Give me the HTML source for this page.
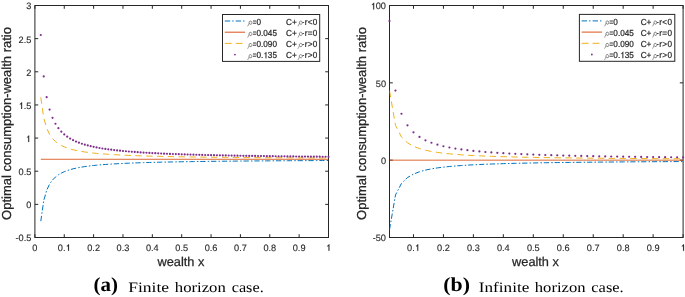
<!DOCTYPE html>
<html><head><meta charset="utf-8"><style>
html,body{margin:0;padding:0;background:#fff;}
body{width:685px;height:297px;overflow:hidden;position:relative;}
svg{position:absolute;left:0;top:0;will-change:transform;}
text{text-rendering:geometricPrecision;}
.tk{font-family:"Liberation Sans",sans-serif;font-size:9.2px;fill:#262626;stroke:#262626;stroke-width:0.12px;}
.lb{font-family:"Liberation Sans",sans-serif;font-size:13.0px;fill:#262626;stroke:#262626;stroke-width:0.25px;}
.xl{font-size:12.75px;}
.lg{font-family:"Liberation Sans",sans-serif;font-size:8.2px;fill:#262626;stroke:#262626;stroke-width:0.2px;}
.rho{font-family:"Liberation Serif",serif;font-style:italic;fill:#777;}
.cap{font-family:"Liberation Serif",serif;font-size:15.5px;fill:#000;}
.capb{font-weight:bold;}
</style></head><body>
<svg width="685" height="297" viewBox="0 0 685 297">
<rect x="34.9" y="5.5" width="293.6" height="232.0" fill="none" stroke="#262626" stroke-width="1.0"/>
<path d="M34.90,237.5v-3.3M34.90,5.5v3.3M64.26,237.5v-3.3M64.26,5.5v3.3M93.62,237.5v-3.3M93.62,5.5v3.3M122.98,237.5v-3.3M122.98,5.5v3.3M152.34,237.5v-3.3M152.34,5.5v3.3M181.70,237.5v-3.3M181.70,5.5v3.3M211.06,237.5v-3.3M211.06,5.5v3.3M240.42,237.5v-3.3M240.42,5.5v3.3M269.78,237.5v-3.3M269.78,5.5v3.3M299.14,237.5v-3.3M299.14,5.5v3.3M328.50,237.5v-3.3M328.50,5.5v3.3M34.9,237.50h3.3M328.5,237.50h-3.3M34.9,204.36h3.3M328.5,204.36h-3.3M34.9,171.21h3.3M328.5,171.21h-3.3M34.9,138.07h3.3M328.5,138.07h-3.3M34.9,104.93h3.3M328.5,104.93h-3.3M34.9,71.79h3.3M328.5,71.79h-3.3M34.9,38.64h3.3M328.5,38.64h-3.3M34.9,5.50h3.3M328.5,5.50h-3.3" stroke="#262626" stroke-width="1.0" fill="none"/>
<clipPath id="c34"><rect x="34.9" y="5.5" width="293.6" height="232.0"/></clipPath>
<g clip-path="url(#c34)">
<polyline points="40.77,221.43 43.71,200.71 46.64,190.35 49.58,184.14 52.52,180.00 55.45,177.04 58.39,174.82 61.32,173.09 64.26,171.71 67.20,170.58 70.13,169.64 73.07,168.84 76.00,168.16 78.94,167.57 81.88,167.05 84.81,166.59 87.75,166.19 90.68,165.82 93.62,165.50 96.56,165.20 99.49,164.93 102.43,164.69 105.36,164.46 108.30,164.25 111.24,164.06 114.17,163.89 117.11,163.72 120.04,163.57 122.98,163.43 125.92,163.29 128.85,163.17 131.79,163.05 134.72,162.94 137.66,162.83 140.60,162.74 143.53,162.64 146.47,162.55 149.40,162.47 152.34,162.39 155.28,162.31 158.21,162.24 161.15,162.17 164.08,162.11 167.02,162.04 169.96,161.98 172.89,161.93 175.83,161.87 178.76,161.82 181.70,161.77 184.64,161.72 187.57,161.67 190.51,161.63 193.44,161.58 196.38,161.54 199.32,161.50 202.25,161.46 205.19,161.43 208.12,161.39 211.06,161.35 214.00,161.32 216.93,161.29 219.87,161.26 222.80,161.22 225.74,161.19 228.68,161.17 231.61,161.14 234.55,161.11 237.48,161.08 240.42,161.06 243.36,161.03 246.29,161.01 249.23,160.99 252.16,160.96 255.10,160.94 258.04,160.92 260.97,160.90 263.91,160.88 266.84,160.86 269.78,160.84 272.72,160.82 275.65,160.80 278.59,160.78 281.52,160.76 284.46,160.75 287.40,160.73 290.33,160.71 293.27,160.70 296.20,160.68 299.14,160.66 302.08,160.65 305.01,160.63 307.95,160.62 310.88,160.61 313.82,160.59 316.76,160.58 319.69,160.56 322.63,160.55 325.56,160.54 328.50,160.53" fill="none" stroke="#0072BD" stroke-width="1.0" stroke-dasharray="5.3 2.2 1.5 1.815" stroke-dashoffset="-0.3"/>
<polyline points="40.77,159.28 328.50,159.28" fill="none" stroke="#D95319" stroke-width="0.88"/>
<polyline points="40.77,97.14 43.71,117.85 46.64,128.21 49.58,134.43 52.52,138.57 55.45,141.53 58.39,143.75 61.32,145.47 64.26,146.85 67.20,147.98 70.13,148.93 73.07,149.72 76.00,150.41 78.94,151.00 81.88,151.51 84.81,151.97 87.75,152.38 90.68,152.74 93.62,153.07 96.56,153.36 99.49,153.63 102.43,153.88 105.36,154.10 108.30,154.31 111.24,154.50 114.17,154.68 117.11,154.84 120.04,155.00 122.98,155.14 125.92,155.27 128.85,155.40 131.79,155.52 134.72,155.63 137.66,155.73 140.60,155.83 143.53,155.92 146.47,156.01 149.40,156.10 152.34,156.18 155.28,156.25 158.21,156.32 161.15,156.39 164.08,156.46 167.02,156.52 169.96,156.58 172.89,156.64 175.83,156.69 178.76,156.75 181.70,156.80 184.64,156.85 187.57,156.89 190.51,156.94 193.44,156.98 196.38,157.02 199.32,157.06 202.25,157.10 205.19,157.14 208.12,157.18 211.06,157.21 214.00,157.25 216.93,157.28 219.87,157.31 222.80,157.34 225.74,157.37 228.68,157.40 231.61,157.43 234.55,157.46 237.48,157.48 240.42,157.51 243.36,157.53 246.29,157.56 249.23,157.58 252.16,157.60 255.10,157.63 258.04,157.65 260.97,157.67 263.91,157.69 266.84,157.71 269.78,157.73 272.72,157.75 275.65,157.77 278.59,157.79 281.52,157.80 284.46,157.82 287.40,157.84 290.33,157.85 293.27,157.87 296.20,157.89 299.14,157.90 302.08,157.92 305.01,157.93 307.95,157.95 310.88,157.96 313.82,157.97 316.76,157.99 319.69,158.00 322.63,158.01 325.56,158.03 328.50,158.04" fill="none" stroke="#EDB120" stroke-width="1.0" stroke-dasharray="6.4 4.415" stroke-dashoffset="-0.3"/>
</g>
<circle cx="40.77" cy="35.00" r="1.1" fill="#7E2F8E"/>
<circle cx="43.71" cy="76.43" r="1.1" fill="#7E2F8E"/>
<circle cx="46.64" cy="97.14" r="1.1" fill="#7E2F8E"/>
<circle cx="49.58" cy="109.57" r="1.1" fill="#7E2F8E"/>
<circle cx="52.52" cy="117.85" r="1.1" fill="#7E2F8E"/>
<circle cx="55.45" cy="123.77" r="1.1" fill="#7E2F8E"/>
<circle cx="58.39" cy="128.21" r="1.1" fill="#7E2F8E"/>
<circle cx="61.32" cy="131.66" r="1.1" fill="#7E2F8E"/>
<circle cx="64.26" cy="134.43" r="1.1" fill="#7E2F8E"/>
<circle cx="67.20" cy="136.69" r="1.1" fill="#7E2F8E"/>
<circle cx="70.13" cy="138.57" r="1.1" fill="#7E2F8E"/>
<circle cx="73.07" cy="140.16" r="1.1" fill="#7E2F8E"/>
<circle cx="76.00" cy="141.53" r="1.1" fill="#7E2F8E"/>
<circle cx="78.94" cy="142.71" r="1.1" fill="#7E2F8E"/>
<circle cx="81.88" cy="143.75" r="1.1" fill="#7E2F8E"/>
<circle cx="84.81" cy="144.66" r="1.1" fill="#7E2F8E"/>
<circle cx="87.75" cy="145.47" r="1.1" fill="#7E2F8E"/>
<circle cx="90.68" cy="146.20" r="1.1" fill="#7E2F8E"/>
<circle cx="93.62" cy="146.85" r="1.1" fill="#7E2F8E"/>
<circle cx="96.56" cy="147.45" r="1.1" fill="#7E2F8E"/>
<circle cx="99.49" cy="147.98" r="1.1" fill="#7E2F8E"/>
<circle cx="102.43" cy="148.48" r="1.1" fill="#7E2F8E"/>
<circle cx="105.36" cy="148.93" r="1.1" fill="#7E2F8E"/>
<circle cx="108.30" cy="149.34" r="1.1" fill="#7E2F8E"/>
<circle cx="111.24" cy="149.72" r="1.1" fill="#7E2F8E"/>
<circle cx="114.17" cy="150.08" r="1.1" fill="#7E2F8E"/>
<circle cx="117.11" cy="150.41" r="1.1" fill="#7E2F8E"/>
<circle cx="120.04" cy="150.71" r="1.1" fill="#7E2F8E"/>
<circle cx="122.98" cy="151.00" r="1.1" fill="#7E2F8E"/>
<circle cx="125.92" cy="151.26" r="1.1" fill="#7E2F8E"/>
<circle cx="128.85" cy="151.51" r="1.1" fill="#7E2F8E"/>
<circle cx="131.79" cy="151.75" r="1.1" fill="#7E2F8E"/>
<circle cx="134.72" cy="151.97" r="1.1" fill="#7E2F8E"/>
<circle cx="137.66" cy="152.18" r="1.1" fill="#7E2F8E"/>
<circle cx="140.60" cy="152.38" r="1.1" fill="#7E2F8E"/>
<circle cx="143.53" cy="152.56" r="1.1" fill="#7E2F8E"/>
<circle cx="146.47" cy="152.74" r="1.1" fill="#7E2F8E"/>
<circle cx="149.40" cy="152.91" r="1.1" fill="#7E2F8E"/>
<circle cx="152.34" cy="153.07" r="1.1" fill="#7E2F8E"/>
<circle cx="155.28" cy="153.22" r="1.1" fill="#7E2F8E"/>
<circle cx="158.21" cy="153.36" r="1.1" fill="#7E2F8E"/>
<circle cx="161.15" cy="153.50" r="1.1" fill="#7E2F8E"/>
<circle cx="164.08" cy="153.63" r="1.1" fill="#7E2F8E"/>
<circle cx="167.02" cy="153.76" r="1.1" fill="#7E2F8E"/>
<circle cx="169.96" cy="153.88" r="1.1" fill="#7E2F8E"/>
<circle cx="172.89" cy="153.99" r="1.1" fill="#7E2F8E"/>
<circle cx="175.83" cy="154.10" r="1.1" fill="#7E2F8E"/>
<circle cx="178.76" cy="154.21" r="1.1" fill="#7E2F8E"/>
<circle cx="181.70" cy="154.31" r="1.1" fill="#7E2F8E"/>
<circle cx="184.64" cy="154.41" r="1.1" fill="#7E2F8E"/>
<circle cx="187.57" cy="154.50" r="1.1" fill="#7E2F8E"/>
<circle cx="190.51" cy="154.59" r="1.1" fill="#7E2F8E"/>
<circle cx="193.44" cy="154.68" r="1.1" fill="#7E2F8E"/>
<circle cx="196.38" cy="154.76" r="1.1" fill="#7E2F8E"/>
<circle cx="199.32" cy="154.84" r="1.1" fill="#7E2F8E"/>
<circle cx="202.25" cy="154.92" r="1.1" fill="#7E2F8E"/>
<circle cx="205.19" cy="155.00" r="1.1" fill="#7E2F8E"/>
<circle cx="208.12" cy="155.07" r="1.1" fill="#7E2F8E"/>
<circle cx="211.06" cy="155.14" r="1.1" fill="#7E2F8E"/>
<circle cx="214.00" cy="155.21" r="1.1" fill="#7E2F8E"/>
<circle cx="216.93" cy="155.27" r="1.1" fill="#7E2F8E"/>
<circle cx="219.87" cy="155.34" r="1.1" fill="#7E2F8E"/>
<circle cx="222.80" cy="155.40" r="1.1" fill="#7E2F8E"/>
<circle cx="225.74" cy="155.46" r="1.1" fill="#7E2F8E"/>
<circle cx="228.68" cy="155.52" r="1.1" fill="#7E2F8E"/>
<circle cx="231.61" cy="155.57" r="1.1" fill="#7E2F8E"/>
<circle cx="234.55" cy="155.63" r="1.1" fill="#7E2F8E"/>
<circle cx="237.48" cy="155.68" r="1.1" fill="#7E2F8E"/>
<circle cx="240.42" cy="155.73" r="1.1" fill="#7E2F8E"/>
<circle cx="243.36" cy="155.78" r="1.1" fill="#7E2F8E"/>
<circle cx="246.29" cy="155.83" r="1.1" fill="#7E2F8E"/>
<circle cx="249.23" cy="155.88" r="1.1" fill="#7E2F8E"/>
<circle cx="252.16" cy="155.92" r="1.1" fill="#7E2F8E"/>
<circle cx="255.10" cy="155.97" r="1.1" fill="#7E2F8E"/>
<circle cx="258.04" cy="156.01" r="1.1" fill="#7E2F8E"/>
<circle cx="260.97" cy="156.05" r="1.1" fill="#7E2F8E"/>
<circle cx="263.91" cy="156.10" r="1.1" fill="#7E2F8E"/>
<circle cx="266.84" cy="156.14" r="1.1" fill="#7E2F8E"/>
<circle cx="269.78" cy="156.18" r="1.1" fill="#7E2F8E"/>
<circle cx="272.72" cy="156.21" r="1.1" fill="#7E2F8E"/>
<circle cx="275.65" cy="156.25" r="1.1" fill="#7E2F8E"/>
<circle cx="278.59" cy="156.29" r="1.1" fill="#7E2F8E"/>
<circle cx="281.52" cy="156.32" r="1.1" fill="#7E2F8E"/>
<circle cx="284.46" cy="156.36" r="1.1" fill="#7E2F8E"/>
<circle cx="287.40" cy="156.39" r="1.1" fill="#7E2F8E"/>
<circle cx="290.33" cy="156.43" r="1.1" fill="#7E2F8E"/>
<circle cx="293.27" cy="156.46" r="1.1" fill="#7E2F8E"/>
<circle cx="296.20" cy="156.49" r="1.1" fill="#7E2F8E"/>
<circle cx="299.14" cy="156.52" r="1.1" fill="#7E2F8E"/>
<circle cx="302.08" cy="156.55" r="1.1" fill="#7E2F8E"/>
<circle cx="305.01" cy="156.58" r="1.1" fill="#7E2F8E"/>
<circle cx="307.95" cy="156.61" r="1.1" fill="#7E2F8E"/>
<circle cx="310.88" cy="156.64" r="1.1" fill="#7E2F8E"/>
<circle cx="313.82" cy="156.67" r="1.1" fill="#7E2F8E"/>
<circle cx="316.76" cy="156.69" r="1.1" fill="#7E2F8E"/>
<circle cx="319.69" cy="156.72" r="1.1" fill="#7E2F8E"/>
<circle cx="322.63" cy="156.75" r="1.1" fill="#7E2F8E"/>
<circle cx="325.56" cy="156.77" r="1.1" fill="#7E2F8E"/>
<circle cx="328.50" cy="156.80" r="1.1" fill="#7E2F8E"/>
<text transform="translate(32.34,250.85) scale(1,1.0)" class="tk">0</text>
<text transform="translate(57.87,250.85) scale(1,1.0)" class="tk">0.&#8199;</text>
<path d="M69.02,250.85 L68.10,250.85 L68.10,245.88 C67.84,246.11 67.52,246.30 67.19,246.43 C67.06,246.49 66.94,246.54 66.83,246.60 L66.83,245.84 C67.29,245.61 67.70,245.28 68.00,244.96 C68.25,244.69 68.44,244.41 68.53,244.26 L69.02,244.26 Z" fill="#262626" stroke="#262626" stroke-width="0.15"/>
<text transform="translate(87.23,250.85) scale(1,1.0)" class="tk">0.2</text>
<text transform="translate(116.59,250.85) scale(1,1.0)" class="tk">0.3</text>
<text transform="translate(145.95,250.85) scale(1,1.0)" class="tk">0.4</text>
<text transform="translate(175.31,250.85) scale(1,1.0)" class="tk">0.5</text>
<text transform="translate(204.67,250.85) scale(1,1.0)" class="tk">0.6</text>
<text transform="translate(234.03,250.85) scale(1,1.0)" class="tk">0.7</text>
<text transform="translate(263.39,250.85) scale(1,1.0)" class="tk">0.8</text>
<text transform="translate(292.75,250.85) scale(1,1.0)" class="tk">0.9</text>
<text transform="translate(325.94,250.85) scale(1,1.0)" class="tk">&#8199;</text>
<path d="M329.42,250.85 L328.50,250.85 L328.50,245.88 C328.24,246.11 327.92,246.30 327.60,246.43 C327.46,246.49 327.34,246.54 327.23,246.60 L327.23,245.84 C327.69,245.61 328.10,245.28 328.41,244.96 C328.66,244.69 328.84,244.41 328.93,244.26 L329.42,244.26 Z" fill="#262626" stroke="#262626" stroke-width="0.15"/>
<text transform="translate(15.55,241.45) scale(1,1.0)" class="tk">-0.5</text>
<text transform="translate(26.28,208.31) scale(1,1.0)" class="tk">0</text>
<text transform="translate(18.61,175.16) scale(1,1.0)" class="tk">0.5</text>
<text transform="translate(25.68,142.02) scale(1,1.0)" class="tk">&#8199;</text>
<path d="M29.16,142.02 L28.24,142.02 L28.24,137.05 C27.98,137.28 27.66,137.47 27.34,137.61 C27.20,137.66 27.08,137.72 26.97,137.77 L26.97,137.01 C27.43,136.78 27.85,136.46 28.15,136.13 C28.40,135.86 28.58,135.58 28.67,135.43 L29.16,135.43 Z" fill="#262626" stroke="#262626" stroke-width="0.15"/>
<text transform="translate(18.61,108.88) scale(1,1.0)" class="tk">&#8199;.5</text>
<path d="M22.09,108.88 L21.17,108.88 L21.17,103.91 C20.91,104.14 20.59,104.32 20.27,104.46 C20.13,104.52 20.01,104.57 19.90,104.63 L19.90,103.86 C20.36,103.63 20.77,103.31 21.08,102.99 C21.32,102.71 21.51,102.44 21.60,102.29 L22.09,102.29 Z" fill="#262626" stroke="#262626" stroke-width="0.15"/>
<text transform="translate(26.28,75.74) scale(1,1.0)" class="tk">2</text>
<text transform="translate(18.61,42.59) scale(1,1.0)" class="tk">2.5</text>
<text transform="translate(26.28,9.45) scale(1,1.0)" class="tk">3</text>
<text x="180.9" y="265.6" text-anchor="middle" class="lb xl">wealth x</text>
<text transform="translate(11.2,123.5) rotate(-90)" text-anchor="middle" class="lb">Optimal consumption-wealth ratio</text>
<rect x="222.5" y="14.5" width="97.19999999999999" height="46.9" fill="#fff" stroke="#262626" stroke-width="1.0"/>
<line x1="224.80" y1="21.00" x2="245.10" y2="21.00" stroke="#0072BD" stroke-width="1.0" stroke-dasharray="5.4 2.0 1.4 2.1"/>
<g fill="none" stroke="#6a6a6a" stroke-width="0.7"><ellipse cx="250.50" cy="22.65" rx="1.45" ry="1.65" transform="rotate(-20 250.50 22.65)"/><path d="M249.20,23.25 C248.60,24.65 248.10,25.65 247.60,26.35"/></g>
<text transform="translate(252.65,24.65) scale(0.75,1.07)" class="lg">=</text>
<text transform="translate(256.45,24.65) scale(1,1.07)" class="lg">0</text>
<text transform="translate(286.10,24.65) scale(1,1.07)" class="lg">C+</text>
<g fill="none" stroke="#6a6a6a" stroke-width="0.7"><ellipse cx="300.80" cy="22.65" rx="1.45" ry="1.65" transform="rotate(-20 300.80 22.65)"/><path d="M299.50,23.25 C298.90,24.65 298.40,25.65 297.90,26.35"/></g>
<text transform="translate(302.25,24.65) scale(0.75,1.07)" class="lg">-</text>
<text transform="translate(304.76,24.65) scale(1,1.07)" class="lg" letter-spacing="0.26">r&lt;0</text>
<line x1="224.80" y1="32.20" x2="245.10" y2="32.20" stroke="#D95319" stroke-width="1.0"/>
<g fill="none" stroke="#6a6a6a" stroke-width="0.7"><ellipse cx="250.50" cy="33.85" rx="1.45" ry="1.65" transform="rotate(-20 250.50 33.85)"/><path d="M249.20,34.45 C248.60,35.85 248.10,36.85 247.60,37.55"/></g>
<text transform="translate(252.65,35.85) scale(0.75,1.07)" class="lg">=</text>
<text transform="translate(256.45,35.85) scale(1,1.07)" class="lg">0.045</text>
<text transform="translate(286.10,35.85) scale(1,1.07)" class="lg">C+</text>
<g fill="none" stroke="#6a6a6a" stroke-width="0.7"><ellipse cx="300.80" cy="33.85" rx="1.45" ry="1.65" transform="rotate(-20 300.80 33.85)"/><path d="M299.50,34.45 C298.90,35.85 298.40,36.85 297.90,37.55"/></g>
<text transform="translate(302.25,35.85) scale(0.75,1.07)" class="lg">-</text>
<text transform="translate(304.76,35.85) scale(1,1.07)" class="lg" letter-spacing="0.26">r=0</text>
<line x1="224.80" y1="43.40" x2="245.10" y2="43.40" stroke="#EDB120" stroke-width="1.0" stroke-dasharray="6.9 4.0"/>
<g fill="none" stroke="#6a6a6a" stroke-width="0.7"><ellipse cx="250.50" cy="45.05" rx="1.45" ry="1.65" transform="rotate(-20 250.50 45.05)"/><path d="M249.20,45.65 C248.60,47.05 248.10,48.05 247.60,48.75"/></g>
<text transform="translate(252.65,47.05) scale(0.75,1.07)" class="lg">=</text>
<text transform="translate(256.45,47.05) scale(1,1.07)" class="lg">0.090</text>
<text transform="translate(286.10,47.05) scale(1,1.07)" class="lg">C+</text>
<g fill="none" stroke="#6a6a6a" stroke-width="0.7"><ellipse cx="300.80" cy="45.05" rx="1.45" ry="1.65" transform="rotate(-20 300.80 45.05)"/><path d="M299.50,45.65 C298.90,47.05 298.40,48.05 297.90,48.75"/></g>
<text transform="translate(302.25,47.05) scale(0.75,1.07)" class="lg">-</text>
<text transform="translate(304.76,47.05) scale(1,1.07)" class="lg" letter-spacing="0.26">r&gt;0</text>
<circle cx="234.95" cy="54.60" r="0.9" fill="#7E2F8E"/>
<g fill="none" stroke="#6a6a6a" stroke-width="0.7"><ellipse cx="250.50" cy="56.25" rx="1.45" ry="1.65" transform="rotate(-20 250.50 56.25)"/><path d="M249.20,56.85 C248.60,58.25 248.10,59.25 247.60,59.95"/></g>
<text transform="translate(252.65,58.25) scale(0.75,1.07)" class="lg">=</text>
<text transform="translate(256.45,58.25) scale(1,1.07)" class="lg">0.&#8199;35</text>
<path d="M266.39,58.25 L265.57,58.25 L265.57,53.51 C265.34,53.73 265.05,53.91 264.76,54.04 C264.64,54.09 264.54,54.14 264.44,54.20 L264.44,53.47 C264.85,53.25 265.22,52.94 265.49,52.63 C265.71,52.37 265.87,52.11 265.95,51.97 L266.39,51.97 Z" fill="#262626" stroke="#262626" stroke-width="0.15"/>
<text transform="translate(286.10,58.25) scale(1,1.07)" class="lg">C+</text>
<g fill="none" stroke="#6a6a6a" stroke-width="0.7"><ellipse cx="300.80" cy="56.25" rx="1.45" ry="1.65" transform="rotate(-20 300.80 56.25)"/><path d="M299.50,56.85 C298.90,58.25 298.40,59.25 297.90,59.95"/></g>
<text transform="translate(302.25,58.25) scale(0.75,1.07)" class="lg">-</text>
<text transform="translate(304.76,58.25) scale(1,1.07)" class="lg" letter-spacing="0.26">r&gt;0</text>
<rect x="389.5" y="5.5" width="293.6" height="232.0" fill="none" stroke="#262626" stroke-width="1.0"/>
<path d="M413.47,237.5v-3.3M413.47,5.5v3.3M443.43,237.5v-3.3M443.43,5.5v3.3M473.39,237.5v-3.3M473.39,5.5v3.3M503.34,237.5v-3.3M503.34,5.5v3.3M533.30,237.5v-3.3M533.30,5.5v3.3M563.26,237.5v-3.3M563.26,5.5v3.3M593.22,237.5v-3.3M593.22,5.5v3.3M623.18,237.5v-3.3M623.18,5.5v3.3M653.14,237.5v-3.3M653.14,5.5v3.3M683.10,237.5v-3.3M683.10,5.5v3.3M389.5,237.50h3.3M683.1,237.50h-3.3M389.5,160.17h3.3M683.1,160.17h-3.3M389.5,82.83h3.3M683.1,82.83h-3.3M389.5,5.50h3.3M683.1,5.50h-3.3" stroke="#262626" stroke-width="1.0" fill="none"/>
<clipPath id="c389"><rect x="389.5" y="5.5" width="293.6" height="232.0"/></clipPath>
<g clip-path="url(#c389)">
<polyline points="389.50,229.77 395.49,194.97 401.48,183.37 407.48,177.57 413.47,174.09 419.46,171.77 425.45,170.11 431.44,168.87 437.43,167.90 443.43,167.13 449.42,166.49 455.41,165.97 461.40,165.52 467.39,165.14 473.39,164.81 479.38,164.52 485.37,164.26 491.36,164.03 497.35,163.83 503.34,163.65 509.34,163.48 515.33,163.33 521.32,163.19 527.31,163.07 533.30,162.95 539.30,162.84 545.29,162.74 551.28,162.65 557.27,162.57 563.26,162.49 569.26,162.41 575.25,162.34 581.24,162.28 587.23,162.21 593.22,162.16 599.21,162.10 605.21,162.05 611.20,162.00 617.19,161.95 623.18,161.91 629.17,161.86 635.17,161.82 641.16,161.79 647.15,161.75 653.14,161.71 659.13,161.68 665.12,161.65 671.12,161.62 677.11,161.59 683.10,161.56" fill="none" stroke="#0072BD" stroke-width="1.0" stroke-dasharray="5.3 2.2 1.5 1.815" stroke-dashoffset="-0.3"/>
<polyline points="389.50,160.17 683.10,160.17" fill="none" stroke="#D95319" stroke-width="0.88"/>
<polyline points="389.50,90.57 395.49,125.37 401.48,136.97 407.48,142.77 413.47,146.25 419.46,148.57 425.45,150.22 431.44,151.47 437.43,152.43 443.43,153.21 449.42,153.84 455.41,154.37 461.40,154.81 467.39,155.20 473.39,155.53 479.38,155.82 485.37,156.07 491.36,156.30 497.35,156.50 503.34,156.69 509.34,156.85 515.33,157.00 521.32,157.14 527.31,157.27 533.30,157.38 539.30,157.49 545.29,157.59 551.28,157.68 557.27,157.77 563.26,157.85 569.26,157.92 575.25,157.99 581.24,158.06 587.23,158.12 593.22,158.18 599.21,158.23 605.21,158.29 611.20,158.34 617.19,158.38 623.18,158.43 629.17,158.47 635.17,158.51 641.16,158.55 647.15,158.58 653.14,158.62 659.13,158.65 665.12,158.69 671.12,158.72 677.11,158.75 683.10,158.77" fill="none" stroke="#EDB120" stroke-width="1.0" stroke-dasharray="6.4 4.415" stroke-dashoffset="-0.3"/>
</g>
<circle cx="389.50" cy="20.97" r="1.1" fill="#7E2F8E"/>
<circle cx="395.49" cy="90.57" r="1.1" fill="#7E2F8E"/>
<circle cx="401.48" cy="113.77" r="1.1" fill="#7E2F8E"/>
<circle cx="407.48" cy="125.37" r="1.1" fill="#7E2F8E"/>
<circle cx="413.47" cy="132.33" r="1.1" fill="#7E2F8E"/>
<circle cx="419.46" cy="136.97" r="1.1" fill="#7E2F8E"/>
<circle cx="425.45" cy="140.28" r="1.1" fill="#7E2F8E"/>
<circle cx="431.44" cy="142.77" r="1.1" fill="#7E2F8E"/>
<circle cx="437.43" cy="144.70" r="1.1" fill="#7E2F8E"/>
<circle cx="443.43" cy="146.25" r="1.1" fill="#7E2F8E"/>
<circle cx="449.42" cy="147.51" r="1.1" fill="#7E2F8E"/>
<circle cx="455.41" cy="148.57" r="1.1" fill="#7E2F8E"/>
<circle cx="461.40" cy="149.46" r="1.1" fill="#7E2F8E"/>
<circle cx="467.39" cy="150.22" r="1.1" fill="#7E2F8E"/>
<circle cx="473.39" cy="150.89" r="1.1" fill="#7E2F8E"/>
<circle cx="479.38" cy="151.47" r="1.1" fill="#7E2F8E"/>
<circle cx="485.37" cy="151.98" r="1.1" fill="#7E2F8E"/>
<circle cx="491.36" cy="152.43" r="1.1" fill="#7E2F8E"/>
<circle cx="497.35" cy="152.84" r="1.1" fill="#7E2F8E"/>
<circle cx="503.34" cy="153.21" r="1.1" fill="#7E2F8E"/>
<circle cx="509.34" cy="153.54" r="1.1" fill="#7E2F8E"/>
<circle cx="515.33" cy="153.84" r="1.1" fill="#7E2F8E"/>
<circle cx="521.32" cy="154.11" r="1.1" fill="#7E2F8E"/>
<circle cx="527.31" cy="154.37" r="1.1" fill="#7E2F8E"/>
<circle cx="533.30" cy="154.60" r="1.1" fill="#7E2F8E"/>
<circle cx="539.30" cy="154.81" r="1.1" fill="#7E2F8E"/>
<circle cx="545.29" cy="155.01" r="1.1" fill="#7E2F8E"/>
<circle cx="551.28" cy="155.20" r="1.1" fill="#7E2F8E"/>
<circle cx="557.27" cy="155.37" r="1.1" fill="#7E2F8E"/>
<circle cx="563.26" cy="155.53" r="1.1" fill="#7E2F8E"/>
<circle cx="569.26" cy="155.68" r="1.1" fill="#7E2F8E"/>
<circle cx="575.25" cy="155.82" r="1.1" fill="#7E2F8E"/>
<circle cx="581.24" cy="155.95" r="1.1" fill="#7E2F8E"/>
<circle cx="587.23" cy="156.07" r="1.1" fill="#7E2F8E"/>
<circle cx="593.22" cy="156.19" r="1.1" fill="#7E2F8E"/>
<circle cx="599.21" cy="156.30" r="1.1" fill="#7E2F8E"/>
<circle cx="605.21" cy="156.40" r="1.1" fill="#7E2F8E"/>
<circle cx="611.20" cy="156.50" r="1.1" fill="#7E2F8E"/>
<circle cx="617.19" cy="156.60" r="1.1" fill="#7E2F8E"/>
<circle cx="623.18" cy="156.69" r="1.1" fill="#7E2F8E"/>
<circle cx="629.17" cy="156.77" r="1.1" fill="#7E2F8E"/>
<circle cx="635.17" cy="156.85" r="1.1" fill="#7E2F8E"/>
<circle cx="641.16" cy="156.93" r="1.1" fill="#7E2F8E"/>
<circle cx="647.15" cy="157.00" r="1.1" fill="#7E2F8E"/>
<circle cx="653.14" cy="157.07" r="1.1" fill="#7E2F8E"/>
<circle cx="659.13" cy="157.14" r="1.1" fill="#7E2F8E"/>
<circle cx="665.12" cy="157.20" r="1.1" fill="#7E2F8E"/>
<circle cx="671.12" cy="157.27" r="1.1" fill="#7E2F8E"/>
<circle cx="677.11" cy="157.33" r="1.1" fill="#7E2F8E"/>
<circle cx="683.10" cy="157.38" r="1.1" fill="#7E2F8E"/>
<text transform="translate(407.07,250.85) scale(1,1.0)" class="tk">0.&#8199;</text>
<path d="M418.22,250.85 L417.30,250.85 L417.30,245.88 C417.05,246.11 416.72,246.30 416.40,246.43 C416.26,246.49 416.14,246.54 416.03,246.60 L416.03,245.84 C416.49,245.61 416.91,245.28 417.21,244.96 C417.46,244.69 417.64,244.41 417.74,244.26 L418.22,244.26 Z" fill="#262626" stroke="#262626" stroke-width="0.15"/>
<text transform="translate(437.03,250.85) scale(1,1.0)" class="tk">0.2</text>
<text transform="translate(466.99,250.85) scale(1,1.0)" class="tk">0.3</text>
<text transform="translate(496.95,250.85) scale(1,1.0)" class="tk">0.4</text>
<text transform="translate(526.91,250.85) scale(1,1.0)" class="tk">0.5</text>
<text transform="translate(556.87,250.85) scale(1,1.0)" class="tk">0.6</text>
<text transform="translate(586.83,250.85) scale(1,1.0)" class="tk">0.7</text>
<text transform="translate(616.79,250.85) scale(1,1.0)" class="tk">0.8</text>
<text transform="translate(646.75,250.85) scale(1,1.0)" class="tk">0.9</text>
<text transform="translate(680.54,250.85) scale(1,1.0)" class="tk">&#8199;</text>
<path d="M684.02,250.85 L683.10,250.85 L683.10,245.88 C682.84,246.11 682.52,246.30 682.20,246.43 C682.06,246.49 681.94,246.54 681.83,246.60 L681.83,245.84 C682.29,245.61 682.70,245.28 683.01,244.96 C683.26,244.69 683.44,244.41 683.53,244.26 L684.02,244.26 Z" fill="#262626" stroke="#262626" stroke-width="0.15"/>
<text transform="translate(372.70,241.45) scale(1,1.0)" class="tk">-50</text>
<text transform="translate(380.88,164.12) scale(1,1.0)" class="tk">0</text>
<text transform="translate(375.77,86.78) scale(1,1.0)" class="tk">50</text>
<text transform="translate(370.65,9.45) scale(1,1.0)" class="tk">&#8199;00</text>
<path d="M374.13,9.45 L373.21,9.45 L373.21,4.48 C372.95,4.71 372.63,4.90 372.31,5.03 C372.17,5.09 372.05,5.14 371.94,5.20 L371.94,4.44 C372.40,4.21 372.81,3.88 373.12,3.56 C373.36,3.29 373.55,3.01 373.64,2.86 L374.13,2.86 Z" fill="#262626" stroke="#262626" stroke-width="0.15"/>
<text x="535.5" y="265.6" text-anchor="middle" class="lb xl">wealth x</text>
<text transform="translate(366.0,123.5) rotate(-90)" text-anchor="middle" class="lb">Optimal consumption-wealth ratio</text>
<rect x="579.4" y="14.4" width="95.39999999999998" height="46.9" fill="#fff" stroke="#262626" stroke-width="1.0"/>
<line x1="581.70" y1="20.90" x2="602.00" y2="20.90" stroke="#0072BD" stroke-width="1.0" stroke-dasharray="5.4 2.0 1.4 2.1"/>
<g fill="none" stroke="#6a6a6a" stroke-width="0.7"><ellipse cx="607.40" cy="22.55" rx="1.45" ry="1.65" transform="rotate(-20 607.40 22.55)"/><path d="M606.10,23.15 C605.50,24.55 605.00,25.55 604.50,26.25"/></g>
<text transform="translate(609.55,24.55) scale(0.75,1.07)" class="lg">=</text>
<text transform="translate(613.35,24.55) scale(1,1.07)" class="lg">0</text>
<text transform="translate(640.70,24.55) scale(1,1.07)" class="lg">C+</text>
<g fill="none" stroke="#6a6a6a" stroke-width="0.7"><ellipse cx="655.40" cy="22.55" rx="1.45" ry="1.65" transform="rotate(-20 655.40 22.55)"/><path d="M654.10,23.15 C653.50,24.55 653.00,25.55 652.50,26.25"/></g>
<text transform="translate(656.85,24.55) scale(0.75,1.07)" class="lg">-</text>
<text transform="translate(659.36,24.55) scale(1,1.07)" class="lg" letter-spacing="0.26">r&lt;0</text>
<line x1="581.70" y1="32.10" x2="602.00" y2="32.10" stroke="#D95319" stroke-width="1.0"/>
<g fill="none" stroke="#6a6a6a" stroke-width="0.7"><ellipse cx="607.40" cy="33.75" rx="1.45" ry="1.65" transform="rotate(-20 607.40 33.75)"/><path d="M606.10,34.35 C605.50,35.75 605.00,36.75 604.50,37.45"/></g>
<text transform="translate(609.55,35.75) scale(0.75,1.07)" class="lg">=</text>
<text transform="translate(613.35,35.75) scale(1,1.07)" class="lg">0.045</text>
<text transform="translate(640.70,35.75) scale(1,1.07)" class="lg">C+</text>
<g fill="none" stroke="#6a6a6a" stroke-width="0.7"><ellipse cx="655.40" cy="33.75" rx="1.45" ry="1.65" transform="rotate(-20 655.40 33.75)"/><path d="M654.10,34.35 C653.50,35.75 653.00,36.75 652.50,37.45"/></g>
<text transform="translate(656.85,35.75) scale(0.75,1.07)" class="lg">-</text>
<text transform="translate(659.36,35.75) scale(1,1.07)" class="lg" letter-spacing="0.26">r=0</text>
<line x1="581.70" y1="43.30" x2="602.00" y2="43.30" stroke="#EDB120" stroke-width="1.0" stroke-dasharray="6.9 4.0"/>
<g fill="none" stroke="#6a6a6a" stroke-width="0.7"><ellipse cx="607.40" cy="44.95" rx="1.45" ry="1.65" transform="rotate(-20 607.40 44.95)"/><path d="M606.10,45.55 C605.50,46.95 605.00,47.95 604.50,48.65"/></g>
<text transform="translate(609.55,46.95) scale(0.75,1.07)" class="lg">=</text>
<text transform="translate(613.35,46.95) scale(1,1.07)" class="lg">0.090</text>
<text transform="translate(640.70,46.95) scale(1,1.07)" class="lg">C+</text>
<g fill="none" stroke="#6a6a6a" stroke-width="0.7"><ellipse cx="655.40" cy="44.95" rx="1.45" ry="1.65" transform="rotate(-20 655.40 44.95)"/><path d="M654.10,45.55 C653.50,46.95 653.00,47.95 652.50,48.65"/></g>
<text transform="translate(656.85,46.95) scale(0.75,1.07)" class="lg">-</text>
<text transform="translate(659.36,46.95) scale(1,1.07)" class="lg" letter-spacing="0.26">r&gt;0</text>
<circle cx="591.85" cy="54.50" r="0.9" fill="#7E2F8E"/>
<g fill="none" stroke="#6a6a6a" stroke-width="0.7"><ellipse cx="607.40" cy="56.15" rx="1.45" ry="1.65" transform="rotate(-20 607.40 56.15)"/><path d="M606.10,56.75 C605.50,58.15 605.00,59.15 604.50,59.85"/></g>
<text transform="translate(609.55,58.15) scale(0.75,1.07)" class="lg">=</text>
<text transform="translate(613.35,58.15) scale(1,1.07)" class="lg">0.&#8199;35</text>
<path d="M623.29,58.15 L622.47,58.15 L622.47,53.41 C622.24,53.63 621.95,53.81 621.66,53.94 C621.54,53.99 621.44,54.04 621.34,54.10 L621.34,53.37 C621.75,53.15 622.12,52.84 622.39,52.53 C622.61,52.27 622.77,52.01 622.85,51.87 L623.29,51.87 Z" fill="#262626" stroke="#262626" stroke-width="0.15"/>
<text transform="translate(640.70,58.15) scale(1,1.07)" class="lg">C+</text>
<g fill="none" stroke="#6a6a6a" stroke-width="0.7"><ellipse cx="655.40" cy="56.15" rx="1.45" ry="1.65" transform="rotate(-20 655.40 56.15)"/><path d="M654.10,56.75 C653.50,58.15 653.00,59.15 652.50,59.85"/></g>
<text transform="translate(656.85,58.15) scale(0.75,1.07)" class="lg">-</text>
<text transform="translate(659.36,58.15) scale(1,1.07)" class="lg" letter-spacing="0.26">r&gt;0</text>
<text x="93.6" y="291.2" class="cap capb" style="font-size:20.0px" textLength="24.5" lengthAdjust="spacingAndGlyphs">(a)</text>
<text transform="translate(128.20,291.8) scale(1,0.93)" class="cap" textLength="40.90" lengthAdjust="spacingAndGlyphs">Finite</text>
<text transform="translate(174.80,291.8) scale(1,0.93)" class="cap" textLength="51.00" lengthAdjust="spacingAndGlyphs">horizon</text>
<text transform="translate(231.70,291.8) scale(1,0.93)" class="cap" textLength="32.00" lengthAdjust="spacingAndGlyphs">case.</text>
<text transform="translate(478.80,291.8) scale(1,0.93)" class="cap" textLength="50.50" lengthAdjust="spacingAndGlyphs">Infinite</text>
<text transform="translate(534.80,291.8) scale(1,0.93)" class="cap" textLength="50.70" lengthAdjust="spacingAndGlyphs">horizon</text>
<text transform="translate(591.30,291.8) scale(1,0.93)" class="cap" textLength="32.40" lengthAdjust="spacingAndGlyphs">case.</text>
<text x="443.3" y="291.2" class="cap capb" style="font-size:20.0px" textLength="26.7" lengthAdjust="spacingAndGlyphs">(b)</text>

</svg>
</body></html>
